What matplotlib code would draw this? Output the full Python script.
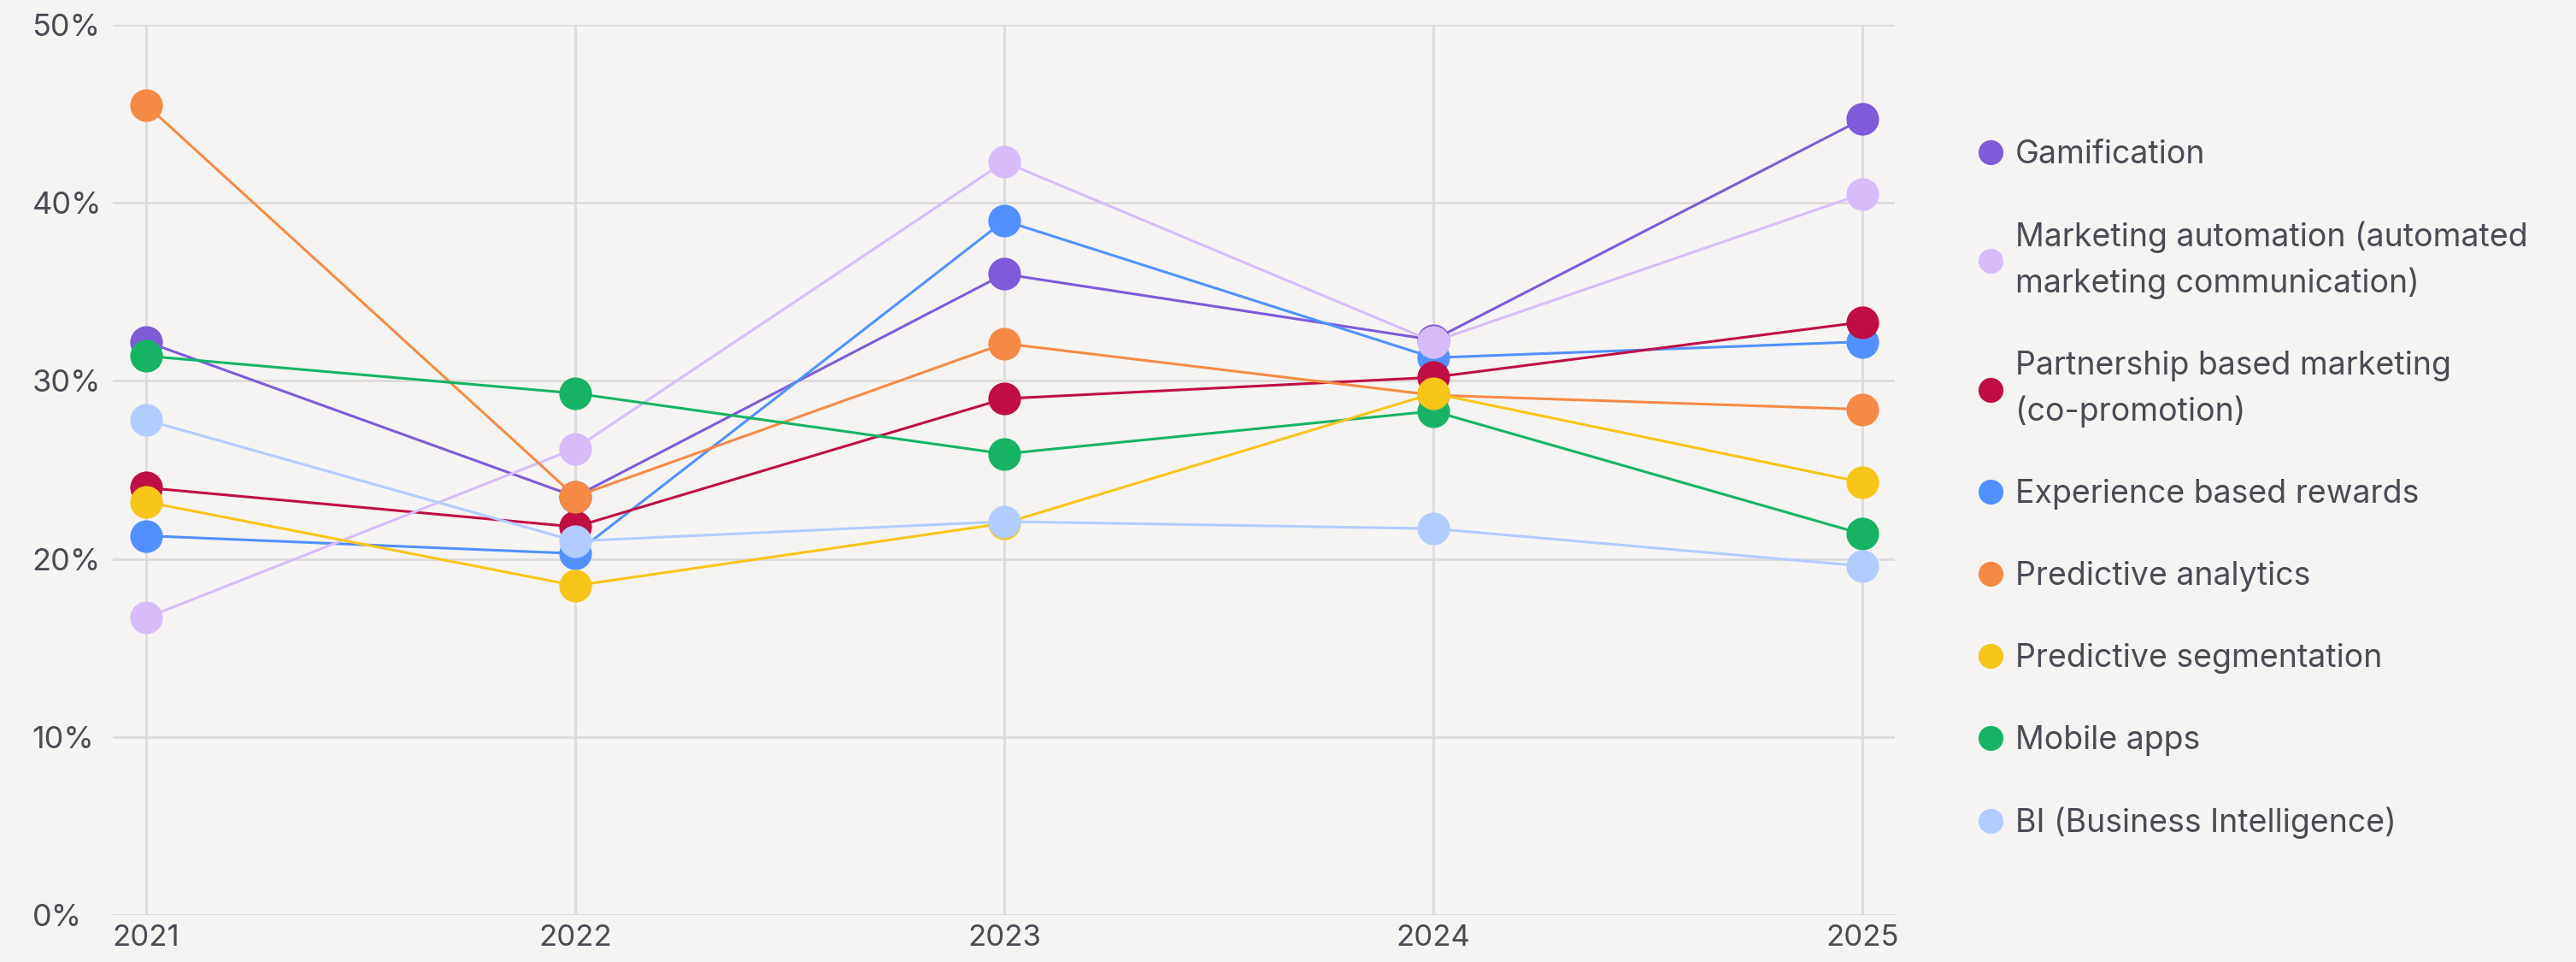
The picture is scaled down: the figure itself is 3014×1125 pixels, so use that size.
import matplotlib
matplotlib.use("Agg")
import matplotlib.pyplot as plt
import matplotlib.ticker as ticker

# Share of respondents per tool, by year
years = [2021, 2022, 2023, 2024, 2025]

series_names = [
    "Gamification",
    "Marketing automation (automated\nmarketing communication)",
    "Partnership based marketing\n(co-promotion)",
    "Experience based rewards",
    "Predictive analytics",
    "Predictive segmentation",
    "Mobile apps",
    "BI (Business Intelligence)",
]

gamification = [32.2, 23.5, 36.0, 32.3, 44.7]
marketing_automation = [16.7, 26.2, 42.3, 32.2, 40.5]
partnership = [24.0, 21.8, 29.0, 30.2, 33.3]
experience_rewards = [21.3, 20.3, 39.0, 31.3, 32.2]
predictive_analytics = [45.5, 23.5, 32.1, 29.2, 28.4]
predictive_segmentation = [23.2, 18.5, 22.0, 29.3, 24.3]
mobile_apps = [31.4, 29.3, 25.9, 28.3, 21.4]
bi = [27.8, 21.0, 22.1, 21.7, 19.6]

values = [gamification, marketing_automation, partnership, experience_rewards,
          predictive_analytics, predictive_segmentation, mobile_apps, bi]

colors = ["#7F5AD9", "#D8BCFA", "#C00E45", "#5290FF",
          "#F58A47", "#F8C519", "#16B364", "#B2CCFF"]

# stacking order of the series (higher is drawn on top)
layers = [1, 4, 3, 2, 5, 7, 6, 8]

bg = "#F5F4F2"
grid_color = "#DDDBD9"
text_color = "#4A4B55"

plt.rcParams["font.family"] = ["Inter", "DejaVu Sans"]

fig = plt.figure(figsize=(30.14, 11.25), dpi=100, facecolor=bg)
ax = fig.add_axes([132 / 3014, 55 / 1125, (2217 - 132) / 3014, (1070 - 29) / 1125])
ax.set_facecolor(bg)

for name, vals, col, z in zip(series_names, values, colors, layers):
    ax.plot(years, vals, color=col, linewidth=2.2, marker="o", markersize=27.5,
            markeredgewidth=0, label=name, zorder=3 + z, clip_on=False)

ax.set_ylim(0, 50)
ax.set_xlim(2020.922, 2025.076)
ax.set_xticks(years)
ax.set_yticks([0, 10, 20, 30, 40, 50])
ax.yaxis.set_major_formatter(ticker.FuncFormatter(lambda v, pos: f"{v:.0f}%"))

ax.grid(True, color=grid_color, linewidth=2)
ax.set_axisbelow(True)
for s in ax.spines.values():
    s.set_visible(False)

ax.tick_params(axis="both", length=0, colors=text_color)
ax.tick_params(axis="y", labelsize=26, pad=68)
ax.tick_params(axis="x", labelsize=25, pad=8)
for lbl in ax.get_yticklabels():
    lbl.set_horizontalalignment("left")

leg = ax.legend(loc="upper left", bbox_to_anchor=(2315 / 3014, 1 - 163 / 1125),
                bbox_transform=fig.transFigure, frameon=False, fontsize=27,
                borderpad=0, borderaxespad=0, handlelength=0.75,
                handletextpad=0.4, labelspacing=1.6, markerscale=21 / 27.5)
for t in leg.get_texts():
    t.set_color(text_color)
    t.set_linespacing(1.55)
for h in leg.get_lines():
    h.set_linestyle("none")

fig.savefig("out.png", dpi=100, facecolor=bg)
